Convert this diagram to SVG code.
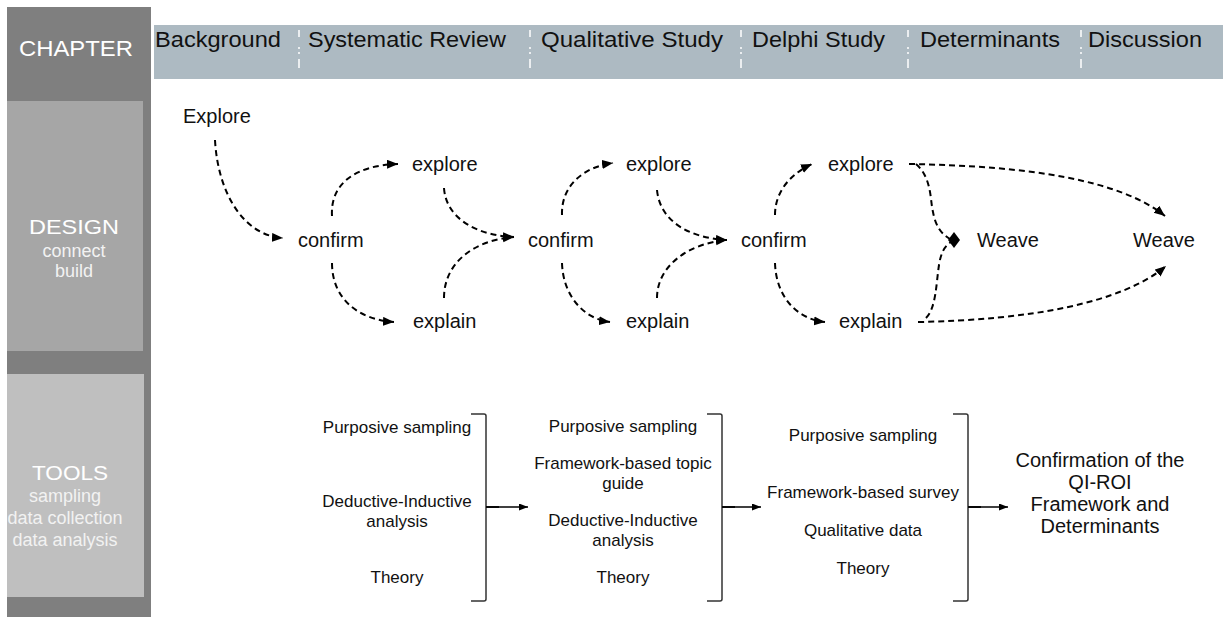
<svg xmlns="http://www.w3.org/2000/svg" width="1223" height="617" viewBox="0 0 1223 617">
  <style>
    text { font-family: "Liberation Sans", Arial, sans-serif; }
    .hdr { font-size: 22px; fill: #111; }
    .side { fill: #ffffff; text-anchor: middle; }
    .sub { fill: #f2f2f2; text-anchor: middle; font-size: 18px; }
    .lbl { font-size: 20px; fill: #111; }
    .tool { font-size: 17px; fill: #111; text-anchor: middle; }
    .fin { font-size: 20px; fill: #111; text-anchor: middle; }
    .dash { fill: none; stroke: #000; stroke-width: 2; stroke-dasharray: 6 4; }
    .solid { fill: none; stroke: #000; stroke-width: 1.5; }
    .brk { fill: none; stroke: #333; stroke-width: 1.5; }
    .tick { stroke: #222; stroke-width: 2; }
    .sep { stroke: #ffffff; stroke-width: 1.5; stroke-dasharray: 7 10 2 3 2 5 9; }
  </style>
  <defs>
    <marker id="ah" markerUnits="userSpaceOnUse" markerWidth="12" markerHeight="10" refX="11" refY="4.5" orient="auto">
      <path d="M0,0 L11,4.5 L0,9 z" fill="#000"/>
    </marker>
    <marker id="ah2" markerUnits="userSpaceOnUse" markerWidth="10" markerHeight="8" refX="9" refY="3.5" orient="auto">
      <path d="M0,0 L9,3.5 L0,7 z" fill="#000"/>
    </marker>
  </defs>

  <rect width="1223" height="617" fill="#ffffff"/>

  <!-- sidebar -->
  <g id="sidebar">
    <rect x="7" y="7" width="144" height="610" fill="#7f7f7f"/>
    <text class="side" x="76" y="56" font-size="22" textLength="114" lengthAdjust="spacingAndGlyphs">CHAPTER</text>
  </g>
  <g id="design-box">
    <rect x="7" y="101" width="136" height="250" fill="#a6a6a6"/>
    <text class="side" x="74" y="234" font-size="21" textLength="90" lengthAdjust="spacingAndGlyphs">DESIGN</text>
    <text class="sub" x="74" y="257" font-size="17">connect</text>
    <text class="sub" x="74" y="277" font-size="17">build</text>
  </g>
  <g id="tools-box">
    <rect x="7" y="374" width="137" height="223" fill="#bfbfbf"/>
    <text class="side" x="70" y="480" font-size="21" textLength="76" lengthAdjust="spacingAndGlyphs">TOOLS</text>
    <text class="sub" x="65" y="502">sampling</text>
    <text class="sub" x="65" y="524">data collection</text>
    <text class="sub" x="65" y="546">data analysis</text>
  </g>

  <!-- header band -->
  <g id="header">
    <rect x="154" y="25" width="1069" height="54" fill="#adbac2"/>
    <line class="sep" x1="299" y1="30" x2="299" y2="68"/>
    <line class="sep" x1="530" y1="30" x2="530" y2="68"/>
    <line class="sep" x1="741" y1="30" x2="741" y2="68"/>
    <line class="sep" x1="908" y1="30" x2="908" y2="68"/>
    <line class="sep" x1="1081" y1="30" x2="1081" y2="68"/>
    <text class="hdr" x="155" y="47" textLength="126" lengthAdjust="spacingAndGlyphs">Background</text>
    <text class="hdr" x="308" y="47" textLength="198" lengthAdjust="spacingAndGlyphs">Systematic Review</text>
    <text class="hdr" x="541" y="47" textLength="182" lengthAdjust="spacingAndGlyphs">Qualitative Study</text>
    <text class="hdr" x="752" y="47" textLength="133" lengthAdjust="spacingAndGlyphs">Delphi Study</text>
    <text class="hdr" x="920" y="47" textLength="140" lengthAdjust="spacingAndGlyphs">Determinants</text>
    <text class="hdr" x="1088" y="47" textLength="114" lengthAdjust="spacingAndGlyphs">Discussion</text>
  </g>

  <!-- design nodes -->
  <g id="n-explore0"><text class="lbl" x="183" y="123">Explore</text></g>
  <g id="n-confirm1"><text class="lbl" x="298" y="247">confirm</text></g>
  <g id="n-explore1"><text class="lbl" x="412" y="171">explore</text></g>
  <g id="n-explain1"><text class="lbl" x="413" y="328">explain</text></g>
  <g id="n-confirm2"><text class="lbl" x="528" y="247">confirm</text></g>
  <g id="n-explore2"><text class="lbl" x="626" y="171">explore</text></g>
  <g id="n-explain2"><text class="lbl" x="626" y="328">explain</text></g>
  <g id="n-confirm3"><text class="lbl" x="741" y="247">confirm</text></g>
  <g id="n-explore3"><text class="lbl" x="828" y="171">explore</text></g>
  <g id="n-explain3"><text class="lbl" x="839" y="328">explain</text></g>
  <g id="n-weave1"><text class="lbl" x="977" y="247">Weave</text></g>
  <g id="n-weave2"><text class="lbl" x="1133" y="247">Weave</text></g>

  <!-- tools nodes -->
  <g id="t-col1">
    <text class="tool" x="397" y="433">Purposive sampling</text>
    <text class="tool" x="397" y="507">Deductive-Inductive</text>
    <text class="tool" x="397" y="527">analysis</text>
    <text class="tool" x="397" y="583">Theory</text>
    <path class="brk" d="M471,414 L484,414 Q486,414 486,416 L486,599 Q486,601 484,601 L471,601"/>
  </g>
  <g id="t-col2">
    <text class="tool" x="623" y="432">Purposive sampling</text>
    <text class="tool" x="623" y="469">Framework-based topic</text>
    <text class="tool" x="623" y="489">guide</text>
    <text class="tool" x="623" y="526">Deductive-Inductive</text>
    <text class="tool" x="623" y="546">analysis</text>
    <text class="tool" x="623" y="583">Theory</text>
    <path class="brk" d="M707,414 L720,414 Q722,414 722,416 L722,599 Q722,601 720,601 L707,601"/>
  </g>
  <g id="t-col3">
    <text class="tool" x="863" y="441">Purposive sampling</text>
    <text class="tool" x="863" y="498">Framework-based survey</text>
    <text class="tool" x="863" y="536">Qualitative data</text>
    <text class="tool" x="863" y="574">Theory</text>
    <path class="brk" d="M953,414 L966,414 Q968,414 968,416 L968,599 Q968,601 966,601 L953,601"/>
  </g>
  <g id="t-result">
    <text class="fin" x="1100" y="467">Confirmation of the</text>
    <text class="fin" x="1100" y="489">QI-ROI</text>
    <text class="fin" x="1100" y="511">Framework and</text>
    <text class="fin" x="1100" y="533">Determinants</text>
  </g>

  <!-- connectors -->
  <g id="connectors">
    <path class="dash" d="M215,140 C218,195 245,236 283,238" marker-end="url(#ah)"/>
    <path class="dash" d="M332,216 C330,182 358,165 398,164" marker-end="url(#ah)"/>
    <path class="dash" d="M332,263 C332,300 360,320 394,322" marker-end="url(#ah)"/>
    <path class="dash" d="M444,188 C446,220 480,236 514,237" marker-end="url(#ah)"/>
    <path class="dash" d="M444,298 C444,262 475,240 514,237" marker-end="url(#ah)"/>
    <path class="dash" d="M562,215 C561,186 583,167 613,163" marker-end="url(#ah)"/>
    <path class="dash" d="M562,263 C563,296 584,319 610,322" marker-end="url(#ah)"/>
    <path class="dash" d="M657,190 C660,222 690,238 727,240" marker-end="url(#ah)"/>
    <path class="dash" d="M657,298 C657,265 690,243 727,240" marker-end="url(#ah)"/>
    <path class="dash" d="M775,215 C775,192 790,174 812,164" marker-end="url(#ah)"/>
    <path class="dash" d="M775,263 C776,296 796,319 825,322" marker-end="url(#ah)"/>
    <path class="dash" d="M916,164 C932,178 930,200 933,212 C936,228 942,234 950,239"/>
    <path class="dash" d="M926,318 C936,308 936,285 939,265 C941,252 945,246 951,242"/>
    <polygon points="948,240 954,232 960,240 954,248" fill="#000"/>
    <path class="dash" d="M909,164 C1030,166 1120,180 1165,216" marker-end="url(#ah)"/>
    <path class="dash" d="M918,322 C1030,320 1122,303 1166,266" marker-end="url(#ah)"/>
    <line class="tick" x1="486" y1="507" x2="499" y2="507"/>
    <line class="tick" x1="722" y1="507" x2="735" y2="507"/>
    <line class="tick" x1="968" y1="507" x2="981" y2="507"/>
    <path class="solid" d="M486,507 L528,507" marker-end="url(#ah2)"/>
    <path class="solid" d="M722,507 L761,507" marker-end="url(#ah2)"/>
    <path class="solid" d="M968,507 L1008,507" marker-end="url(#ah2)"/>
  </g>
</svg>
